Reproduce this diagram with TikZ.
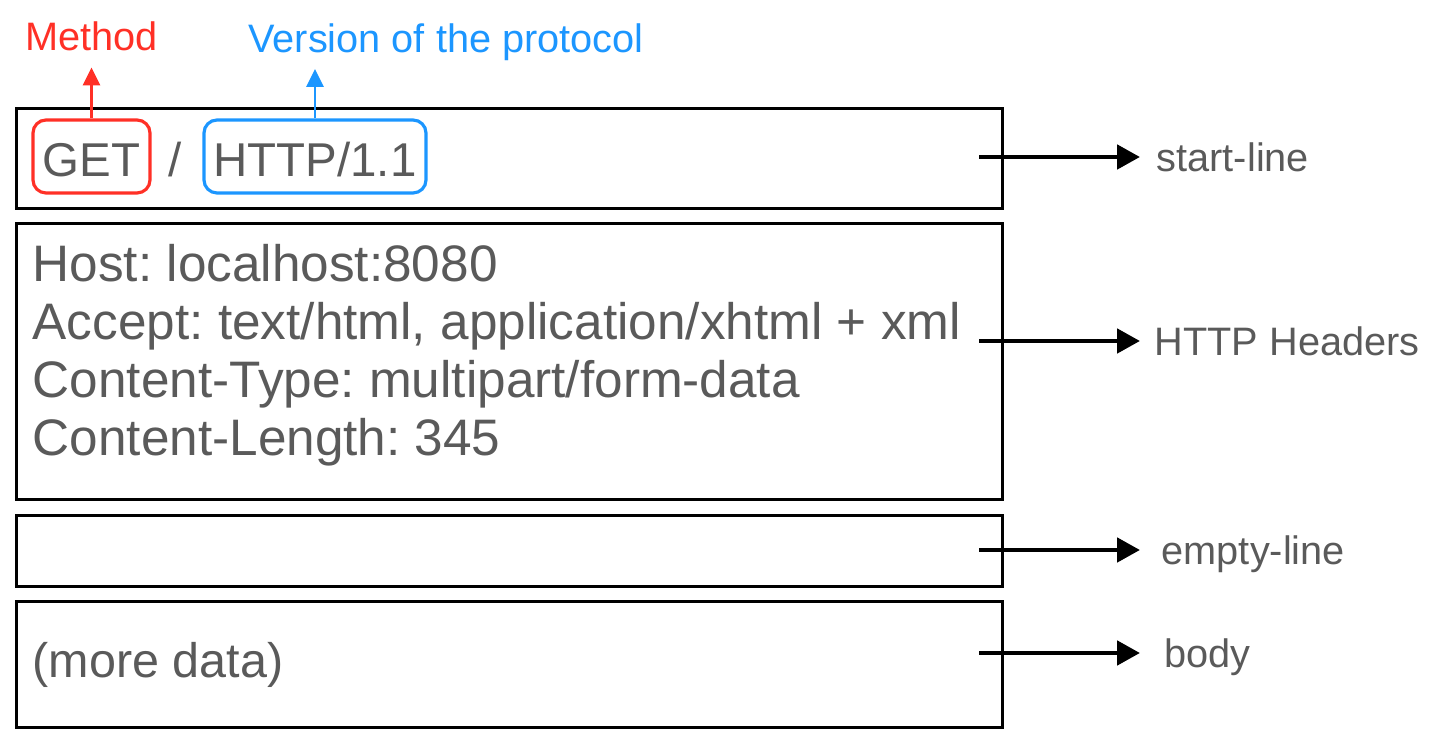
\documentclass[tikz,border=0pt]{standalone}
\usepackage{fontspec}
\setmainfont{Liberation Sans}
\usetikzlibrary{arrows.meta, positioning}
\usepackage{xcolor}
\definecolor{txtgray}{RGB}{90,90,90}
\definecolor{mred}{RGB}{255,48,38}
\definecolor{mblue}{RGB}{28,150,255}
\frenchspacing

\begin{document}
\begin{tikzpicture}[
node distance=1.28mm,
box/.style={draw,
rectangle,
line width=0.75pt,
minimum width=9.86cm,
inner sep=0pt},
pill/.style={draw,
rounded corners=1.3mm,
line width=0.9pt,
minimum height=7.3mm,
inner sep=0pt,
text height=4.1mm,
text depth=0pt,
text=txtgray,
font=\fontsize{13.5pt}{16pt}\selectfont},
rlabel/.style={text=txtgray, text depth=0pt, inner ysep=0pt, font=\fontsize{11.3pt}{13pt}\selectfont},
tlabel/.style={text depth=0pt, inner xsep=0pt, inner ysep=1.6mm, font=\fontsize{11.3pt}{13pt}\selectfont},
arrow/.style={-{Triangle[length=2.3mm, width=2.4mm]}, line width=1.4pt},
uparrow/.style={-{Triangle[length=1.8mm, width=1.7mm]}, line width=0.85pt}
]

\useasboundingbox (0,0) rectangle (14.4,7.36);

% the four parts of the request
\node[box, minimum height=1cm, anchor=north west] (startbox) at (0.15,6.29) {};
\node[box, minimum height=2.76cm, below=of startbox] (headbox) {};
\node[box, minimum height=0.71cm, below=of headbox] (emptybox) {};
\node[box, minimum height=1.26cm, below=of emptybox] (bodybox) {};

% start-line content
\node[pill, draw=mred, minimum width=1.17cm] (getbox) at (0.915,5.795) {GET};
\node[text=txtgray, text height=4.1mm, text depth=0pt, inner sep=0pt, font=\fontsize{13.5pt}{16pt}\selectfont] (slash) at (1.75,5.795) {/};
\node[pill, draw=mblue, minimum width=2.22cm] (httpbox) at (3.15,5.795) {HTTP/1.1};

\node[anchor=north west, inner sep=0pt, align=left, text=txtgray, font=\fontsize{14.6pt}{16.5pt}\selectfont] (hdrtext) at (0.32,4.92) {Host: localhost:8080\\ Accept: text/html, application/xhtml + xml\\ Content-Type: multipart/form-data\\ Content-Length: 345};
\node[anchor=west, inner sep=0pt, text=txtgray, font=\fontsize{13.8pt}{16pt}\selectfont, xshift=1.7mm] (bodytext) at (bodybox.west) {(more data)};

% labels on top
\node[tlabel, text=mred, above=5.1mm of getbox] (method) {Method};
\node[tlabel, text=mblue, anchor=south] (version) at (4.46,6.67) {Version of the protocol};

\draw[uparrow, mred] (getbox.north) -- (method.south);
\draw[uparrow, mblue] (httpbox.north) -- (httpbox.north |- version.south);

% labels on the right
\coordinate (a1) at (9.79,5.79);
\coordinate (a2) at (9.79,3.95);
\coordinate (a3) at (9.79,1.86);
\coordinate (a4) at (9.79,0.83);

\node[rlabel, inner xsep=1.6mm, right=16.1mm of a1] (startlbl) {start-line};
\node[rlabel, inner xsep=1.4mm, right=16.1mm of a2] (headlbl) {HTTP Headers};
\node[rlabel, inner xsep=2.1mm, right=16.1mm of a3] (emptylbl) {empty-line};
\node[rlabel, inner xsep=2.4mm, right=16.1mm of a4] (bodylbl) {body};

\draw[arrow] (a1) -- (startlbl.west);
\draw[arrow] (a2) -- (headlbl.west);
\draw[arrow] (a3) -- (emptylbl.west);
\draw[arrow] (a4) -- (bodylbl.west);

\end{tikzpicture}
\end{document}
